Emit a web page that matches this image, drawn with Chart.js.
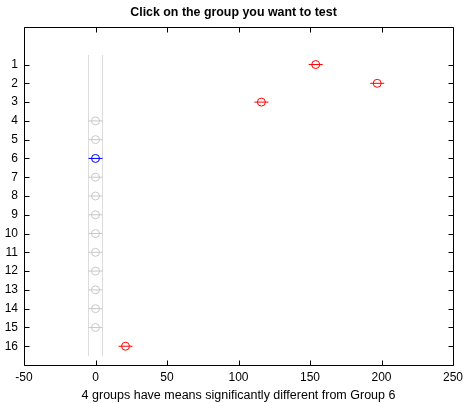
<!DOCTYPE html>
<html>
<head>
<meta charset="utf-8">
<script src="https://cdn.jsdelivr.net/npm/chart.js@4.4.1/dist/chart.umd.min.js"></script>
<style>
  html, body { margin: 0; padding: 0; background: #fff; }
  #wrap { width: 463px; height: 403px; }
</style>
</head>
<body>
<div id="wrap"><canvas id="chart" width="463" height="403"></canvas></div>
<script>
// Data
const groups = [1, 2, 3, 4, 5, 6, 7, 8, 9, 10, 11, 12, 13, 14, 15, 16];
const means = [154, 197, 116, 0, 0, 0, 0, 0, 0, 0, 0, 0, 0, 0, 0, 21];
const halfWidths = [4.9, 4.9, 4.9, 4.9, 4.9, 4.9, 4.9, 4.9, 4.9, 4.9, 4.9, 4.9, 4.9, 4.9, 4.9, 4.9];
const significant = [1, 2, 3, 16];
const selectedGroup = 6;
const xTicks = [-50, 0, 50, 100, 150, 200, 250];
const titleText = 'Click on the group you want to test';
const xLabelText = '4 groups have means significantly different from Group 6';

const FONT = "'Liberation Sans', Arial, Helvetica, sans-serif";
const RED = '#ff0000';
const BLUE = '#0000ff';
const GREY = '#c8c8c8';
const REF_GREY = '#dcdcdc';

const colorFor = (g) => {
    if (g === selectedGroup) return BLUE;
    if (significant.includes(g)) return RED;
    return GREY;
};

// interval line for each group
const intervalSets = groups.map((g, i) => ({
    type: 'line',
    data: [{ x: means[i] - halfWidths[i], y: g }, { x: means[i] + halfWidths[i], y: g }],
    borderColor: colorFor(g),
    borderWidth: 1,
    pointRadius: 0,
    fill: false,
    order: 2
}));

// vertical reference lines at the selected group's interval ends
const sel = selectedGroup - 1;
const refSets = [means[sel] - halfWidths[sel], means[sel] + halfWidths[sel]].map(x => ({
    type: 'line',
    data: [{ x: x, y: 0.5 }, { x: x, y: 16.5 }],
    borderColor: REF_GREY,
    borderWidth: 1,
    pointRadius: 0,
    fill: false,
    order: 3
}));

const meanSet = {
    type: 'scatter',
    data: groups.map((g, i) => ({ x: means[i], y: g })),
    pointStyle: 'circle',
    pointRadius: 4,
    pointBorderWidth: 1,
    pointBackgroundColor: 'rgba(0,0,0,0)',
    pointBorderColor: groups.map(colorFor),
    order: 1
};

// box frame with inward tick marks on all four sides
const frame = {
    id: 'frame',
    afterDraw(chart) {
        const { ctx, chartArea: a, scales } = chart;
        const L = Math.round(a.left) + 0.5, R = Math.round(a.right) + 0.5;
        const T = Math.round(a.top) + 0.5, B = Math.round(a.bottom) + 0.5;
        const tl = 5;
        ctx.save();
        ctx.strokeStyle = '#000';
        ctx.lineWidth = 1;
        ctx.beginPath();
        ctx.rect(L, T, R - L, B - T);
        scales.x.ticks.forEach(t => {
            const px = Math.round(scales.x.getPixelForValue(t.value)) + 0.5;
            ctx.moveTo(px, B); ctx.lineTo(px, B - tl);
            ctx.moveTo(px, T); ctx.lineTo(px, T + tl);
        });
        scales.y.ticks.forEach(t => {
            const py = Math.round(scales.y.getPixelForValue(t.value)) + 0.5;
            ctx.moveTo(L, py); ctx.lineTo(L + tl, py);
            ctx.moveTo(R, py); ctx.lineTo(R - tl, py);
        });
        ctx.stroke();
        ctx.restore();
    }
};

new Chart(document.getElementById('chart'), {
    data: { datasets: [...refSets, ...intervalSets, meanSet] },
    options: {
        responsive: false,
        animation: false,
        layout: { padding: { left: 4, right: 0, top: 0, bottom: 0 } },
        plugins: {
            legend: { display: false },
            tooltip: { enabled: false },
            title: {
                display: true,
                text: titleText,
                color: '#000',
                font: { family: FONT, size: 12.4, weight: 'bold' },
                padding: { top: 5, bottom: 7.1 }
            }
        },
        scales: {
            x: {
                type: 'linear',
                min: -50,
                max: 250,
                afterBuildTicks: (s) => { s.ticks = xTicks.map(v => ({ value: v })); },
                ticks: { color: '#000', font: { family: FONT, size: 12 }, padding: 5, maxRotation: 0 },
                grid: { display: false, drawTicks: false },
                border: { display: false },
                title: {
                    display: true,
                    text: xLabelText,
                    color: '#000',
                    font: { family: FONT, size: 12.5 },
                    padding: { top: 2, bottom: 0 }
                },
                afterFit: (s) => { s.height = 38; s.paddingLeft = 0; s.paddingRight = 10; }
            },
            y: {
                type: 'linear',
                reverse: true,
                min: -1,
                max: 17,
                afterBuildTicks: (s) => { s.ticks = groups.map(v => ({ value: v })); },
                ticks: { color: '#000', font: { family: FONT, size: 12 }, padding: 6 },
                grid: { display: false, drawTicks: false },
                border: { display: false },
                afterFit: (s) => { s.width = 20; s.paddingTop = 0; s.paddingBottom = 0; }
            }
        }
    },
    plugins: [frame]
});
</script>
</body>
</html>
